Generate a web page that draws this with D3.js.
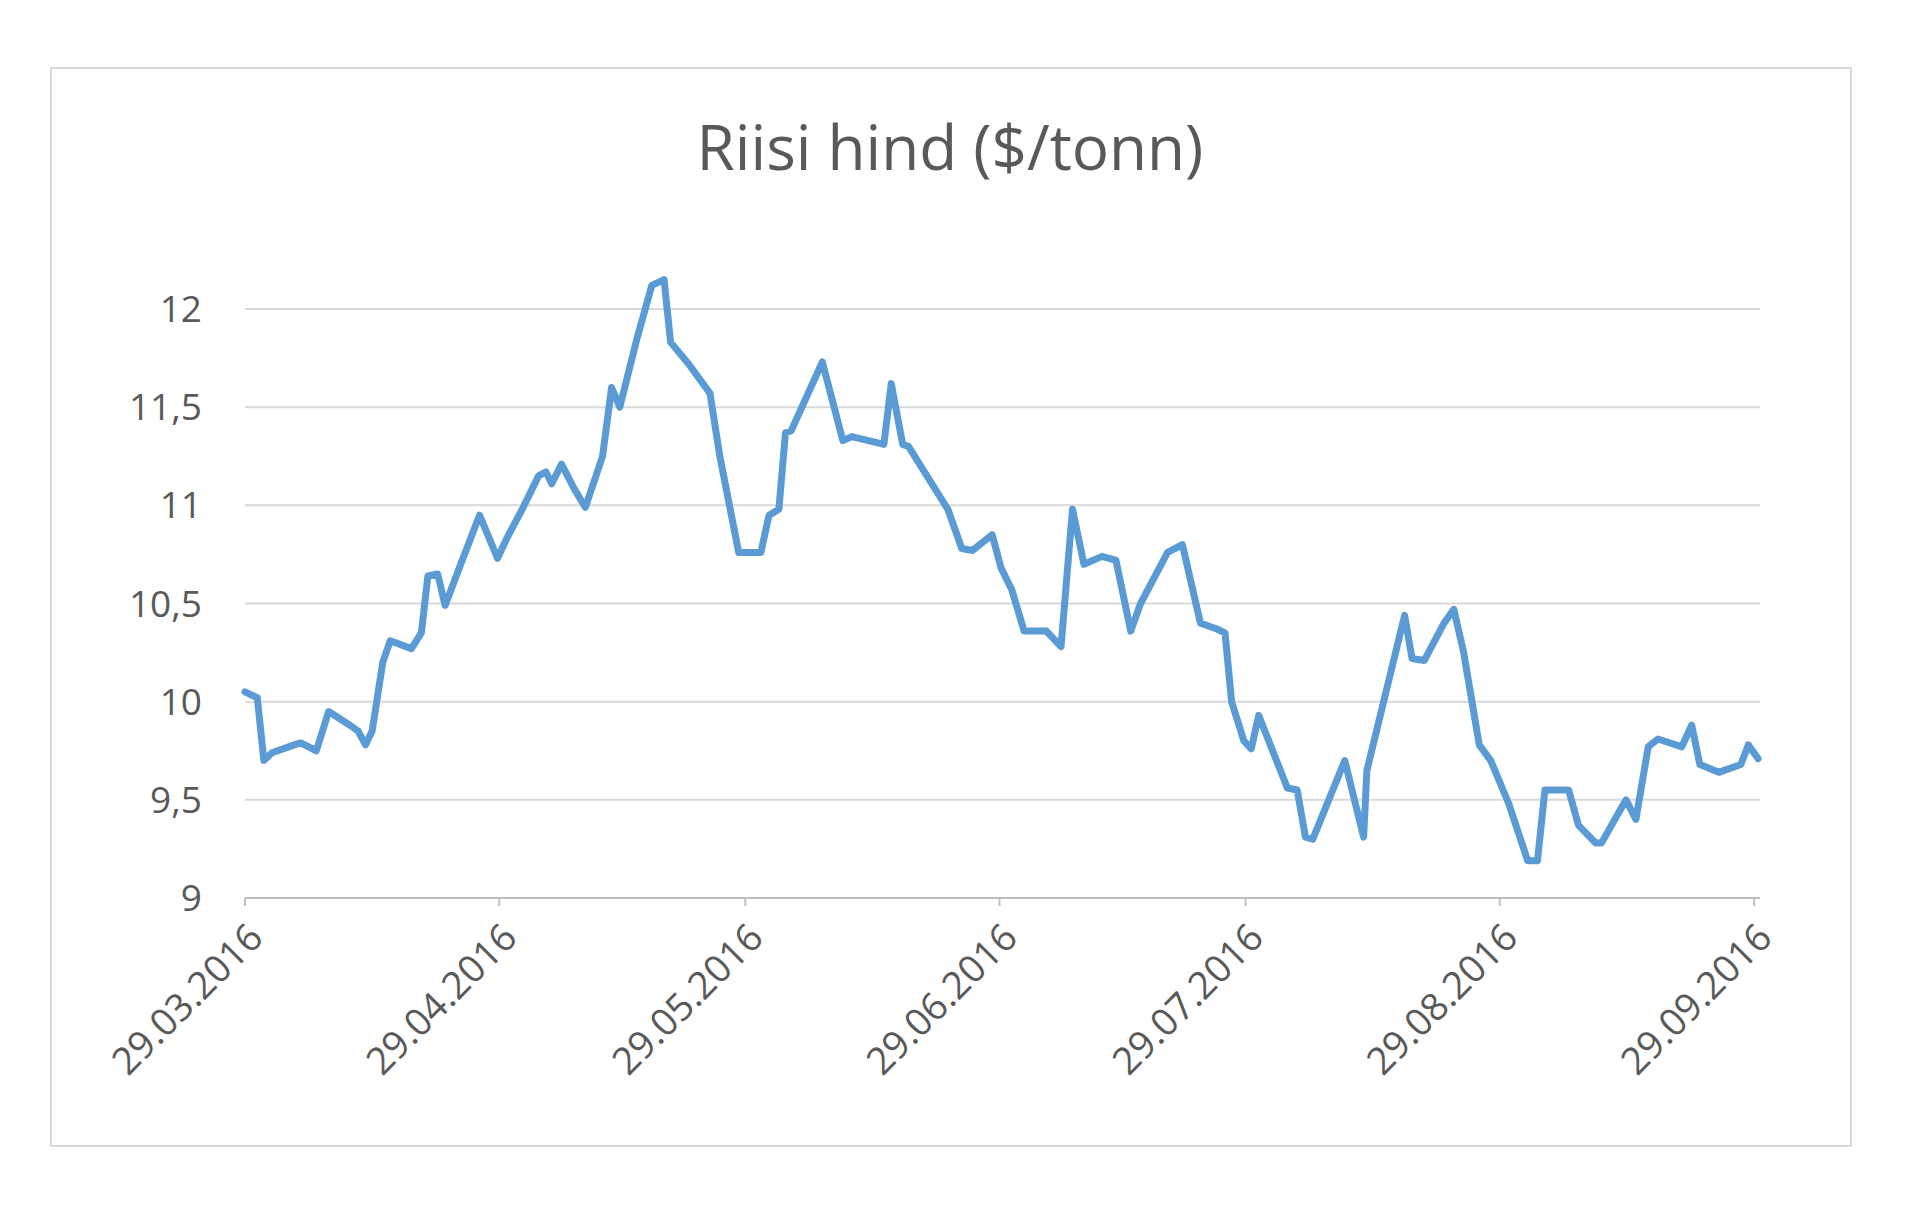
<!DOCTYPE html>
<html>
<head>
<meta charset="utf-8">
<script src="https://d3js.org/d3.v7.min.js"></script>
<style>
  body { margin: 0; background: #fff; }
  text { font-family: "Open Sans", "Noto Sans", sans-serif; fill: #595959; }
</style>
</head>
<body>
<div id="chart"></div>
<script>
// day offsets counted from 29.03.2016
var dayOffsets = [0,1.5,2.3,3.3,6.0,6.8,8.7,10.2,12.8,13.8,14.7,15.5,16.8,17.7,20.3,21.5,22.3,23.5,24.4,26.3,
  28.6,30.8,31.9,33.8,35.8,36.7,37.4,38.6,40.2,41.5,43.6,44.7,45.7,47.8,49.6,51.1,51.9,54.1,56.7,57.9,
  60.2,62.9,63.9,65.1,65.9,66.6,70.4,72.9,74.0,77.9,78.8,80.2,80.9,85.7,87.4,88.7,91.1,92.2,93.5,95.0,
  97.7,99.5,100.9,102.3,104.5,106.2,108.0,109.2,112.5,114.3,116.5,118.5,119.5,120.3,121.8,122.7,123.6,
  127.1,128.3,129.3,130.2,134.1,136.4,136.8,141.4,142.3,143.8,146.2,147.4,148.6,150.5,151.9,154.1,156.4,
  157.6,158.5,161.4,162.6,164.7,165.4,168.4,169.6,171.1,172.3,175.2,176.4,177.4,179.7,182.4,183.3,184.5];
var prices = [10.05,10.02,9.70,9.74,9.78,9.79,9.75,9.95,9.88,9.85,9.78,9.85,10.2,10.31,10.27,10.35,10.64,10.65,10.49,10.7,
  10.95,10.73,10.83,10.98,11.15,11.17,11.11,11.21,11.08,10.99,11.25,11.6,11.5,11.85,12.12,12.15,11.83,11.72,11.57,11.25,
  10.76,10.76,10.95,10.98,11.37,11.38,11.73,11.33,11.35,11.31,11.62,11.31,11.30,10.98,10.78,10.77,10.85,10.68,10.57,10.36,
  10.36,10.28,10.98,10.70,10.74,10.72,10.36,10.50,10.76,10.80,10.40,10.37,10.35,10.0,9.80,9.76,9.93,
  9.56,9.55,9.31,9.30,9.70,9.31,9.65,10.44,10.22,10.21,10.4,10.47,10.25,9.78,9.70,9.48,9.19,
  9.19,9.55,9.55,9.37,9.28,9.28,9.5,9.40,9.77,9.81,9.77,9.88,9.68,9.64,9.68,9.78,9.71];
var tickDays = [0,31,61,92,122,153,184];
var tickLabels = ["29.03.2016","29.04.2016","29.05.2016","29.06.2016","29.07.2016","29.08.2016","29.09.2016"];
var yTicks = [9,9.5,10,10.5,11,11.5,12];

var W = 1920, H = 1210;
var svg = d3.select("#chart").append("svg").attr("width", W).attr("height", H);

svg.append("rect").attr("x", 51).attr("y", 68).attr("width", 1800).attr("height", 1078)
  .attr("fill", "#fff").attr("stroke", "#d9d9d9").attr("stroke-width", 2);

var x = d3.scaleLinear().domain([0, 184]).range([245, 1754]);
var y = d3.scaleLinear().domain([9, 12]).range([898, 309]);

svg.append("text").attr("x", 950).attr("y", 170).attr("text-anchor", "middle")
  .style("font-size", "62px").text("Riisi hind ($/tonn)");

// gridlines
svg.selectAll(".grid").data(yTicks.slice(1)).enter().append("line")
  .attr("x1", 245).attr("x2", 1760)
  .attr("y1", function(d){ return y(d); }).attr("y2", function(d){ return y(d); })
  .attr("stroke", "#d9d9d9").attr("stroke-width", 2);

svg.selectAll(".ylab").data(yTicks).enter().append("text")
  .attr("x", 202).attr("y", function(d){ return y(d) + 13; })
  .attr("text-anchor", "end").style("font-size", "37px")
  .text(function(d){ return String(d).replace(".", ","); });

// x axis
svg.append("line").attr("x1", 245).attr("x2", 1760).attr("y1", y(9)).attr("y2", y(9))
  .attr("stroke", "#bfbfbf").attr("stroke-width", 2);
svg.selectAll(".xt").data(tickDays).enter().append("line")
  .attr("x1", function(d){ return x(d); }).attr("x2", function(d){ return x(d); })
  .attr("y1", y(9)).attr("y2", y(9) + 8).attr("stroke", "#bfbfbf").attr("stroke-width", 2);
svg.selectAll(".xlab").data(tickDays).enter().append("text")
  .attr("text-anchor", "end").style("font-size", "38px")
  .attr("transform", function(d){ return "translate(" + (x(d) + 20) + "," + (y(9) + 42) + ") rotate(-45)"; })
  .text(function(d, i){ return tickLabels[i]; });

var line = d3.line()
  .x(function(d, i){ return x(dayOffsets[i]); })
  .y(function(d){ return y(d); });
svg.append("path").datum(prices).attr("d", line)
  .attr("fill", "none").attr("stroke", "#5b9bd5").attr("stroke-width", 7)
  .attr("stroke-linejoin", "round").attr("stroke-linecap", "round");
</script>
</body>
</html>
